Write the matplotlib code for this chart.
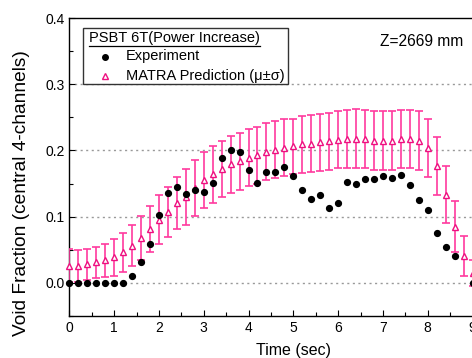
import matplotlib
matplotlib.use("Agg")
import matplotlib.pyplot as plt
import numpy as np
from matplotlib.ticker import MultipleLocator
from matplotlib.patches import Rectangle
from matplotlib.lines import Line2D

plt.rcParams['font.family'] = ['Liberation Sans', 'DejaVu Sans']

time = [0.0, 0.2, 0.4, 0.6, 0.8, 1.0, 1.2, 1.4, 1.6, 1.8,
        2.0, 2.2, 2.4, 2.6, 2.8, 3.0, 3.2, 3.4, 3.6, 3.8,
        4.0, 4.2, 4.4, 4.6, 4.8, 5.0, 5.2, 5.4, 5.6, 5.8,
        6.0, 6.2, 6.4, 6.6, 6.8, 7.0, 7.2, 7.4, 7.6, 7.8,
        8.0, 8.2, 8.4, 8.6, 8.8, 9.0]

experiment = [0.0, 0.0, 0.0, 0.0, 0.0, 0.0, 0.0, 0.011, 0.031, 0.059,
              0.102, 0.135, 0.145, 0.134, 0.141, 0.138, 0.151, 0.189, 0.201, 0.197,
              0.171, 0.151, 0.168, 0.167, 0.175, 0.162, 0.141, 0.127, 0.132, 0.113,
              0.121, 0.152, 0.149, 0.157, 0.157, 0.161, 0.158, 0.163, 0.148, 0.125,
              0.110, 0.075, 0.054, 0.041, np.nan, 0.0]

matra_mean = [0.026, 0.026, 0.028, 0.031, 0.034, 0.039, 0.046, 0.056, 0.068, 0.081,
              0.095, 0.107, 0.121, 0.130, 0.143, 0.155, 0.164, 0.172, 0.179, 0.184,
              0.189, 0.193, 0.198, 0.201, 0.204, 0.206, 0.209, 0.210, 0.212, 0.214,
              0.216, 0.217, 0.218, 0.217, 0.215, 0.215, 0.215, 0.217, 0.217, 0.215,
              0.204, 0.177, 0.133, 0.085, 0.041, 0.015]

matra_sigma = [0.025, 0.024, 0.023, 0.023, 0.025, 0.028, 0.029, 0.031, 0.033, 0.035,
               0.037, 0.038, 0.039, 0.042, 0.042, 0.042, 0.043, 0.043, 0.043, 0.043,
               0.043, 0.043, 0.043, 0.043, 0.043, 0.042, 0.043, 0.043, 0.043, 0.043,
               0.043, 0.044, 0.044, 0.044, 0.044, 0.045, 0.044, 0.044, 0.044, 0.044,
               0.044, 0.044, 0.043, 0.039, 0.030, 0.020]

W, H = 472, 358
fig = plt.figure(figsize=(W / 100, H / 100), dpi=100)
left_px, top_px, bottom_px = 69.3, 18, 316
unit_px = 44.8
xmax = 10
ax = fig.add_axes([left_px / W, (H - bottom_px) / H,
                   unit_px * xmax / W, (bottom_px - top_px) / H])

pink_bar = '#FF3A9E'
pink_tri = '#EE1080'

ax.errorbar(time, matra_mean, yerr=matra_sigma, fmt='none', ecolor=pink_bar,
            elinewidth=1.2, capsize=3, capthick=1.2, zorder=3)
ax.plot(time, matra_mean, linestyle='none', marker='^', ms=4.3, mfc='white',
        mec=pink_tri, mew=1.0, zorder=4, clip_on=False)
ax.plot(time, experiment, linestyle='none', marker='o', ms=4.2, color='black',
        zorder=5, clip_on=False)

ax.set_xlim(0, xmax)
ax.set_ylim(-0.05, 0.4)
ax.xaxis.set_major_locator(MultipleLocator(1))
ax.xaxis.set_minor_locator(MultipleLocator(0.5))
ax.yaxis.set_major_locator(MultipleLocator(0.1))
ax.yaxis.set_minor_locator(MultipleLocator(0.05))
ax.yaxis.set_major_formatter(matplotlib.ticker.FormatStrFormatter('%.1f'))
ax.tick_params(which='both', direction='in', top=False, right=False,
               labelsize=10, width=0.8)
ax.tick_params(which='major', length=4)
ax.tick_params(which='minor', length=3)
for y in [0.0, 0.1, 0.2, 0.3]:
    ax.axhline(y, color='#999999', linestyle=(0, (1.5, 2.5)), linewidth=1.0, zorder=1)
for s in ax.spines.values():
    s.set_linewidth(1.0)

ax.set_xlabel('Time (sec)', fontsize=11.5, labelpad=6)
ax.set_ylabel('Void Fraction (central 4-channels)', fontsize=13.8)
ax.yaxis.set_label_coords(-0.087, 0.413)

# Annotation
fig.text(422 / W, 1 - 42 / H, 'Z=2669 mm', fontsize=11.2, ha='center', va='center')

# Legend box (manual)
lx0, ly0, lx1, ly1 = 83, 28, 288, 84
fig.patches.append(Rectangle((lx0 / W, 1 - ly1 / H), (lx1 - lx0) / W, (ly1 - ly0) / H,
                             transform=fig.transFigure, facecolor='white',
                             edgecolor='#333333', linewidth=1.0, zorder=10))
title = fig.text(89 / W, 1 - 38 / H, 'PSBT 6T(Power Increase)', fontsize=10.5,
                 ha='left', va='center', zorder=11)
fig.canvas.draw()
bb = title.get_window_extent()
fig.add_artist(Line2D([bb.x0 / W, bb.x1 / W], [(bb.y0 - 0.5) / H, (bb.y0 - 0.5) / H],
                      transform=fig.transFigure, color='black', linewidth=0.9, zorder=11))
fig.add_artist(Line2D([105 / W], [1 - 57 / H], transform=fig.transFigure, marker='o',
                      ms=4, color='black', linestyle='none', zorder=11))
fig.text(126 / W, 1 - 56 / H, 'Experiment', fontsize=10.5, ha='left', va='center', zorder=11)
fig.add_artist(Line2D([105 / W], [1 - 76 / H], transform=fig.transFigure, marker='^',
                      ms=4, mfc='white', mec=pink_tri, mew=1.0, linestyle='none', zorder=11))
fig.text(126 / W, 1 - 76 / H, 'MATRA Prediction (\u03bc\u00b1\u03c3)', fontsize=10.5,
         ha='left', va='center', zorder=11)

fig.savefig('out.png', dpi=100)
